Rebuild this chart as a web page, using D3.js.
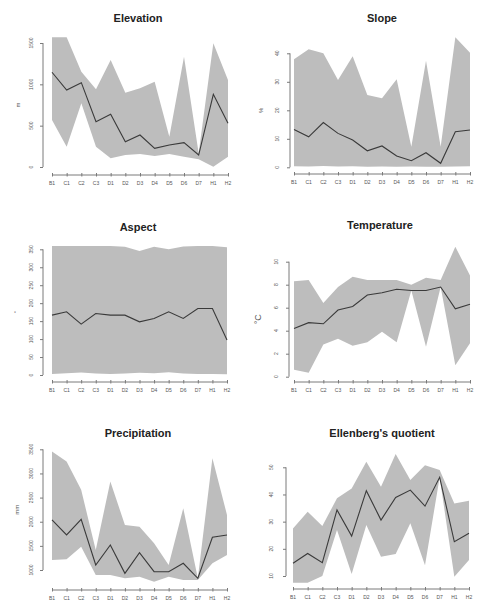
<!DOCTYPE html>
<html>
<head>
<meta charset="utf-8">
<script src="https://cdn.jsdelivr.net/npm/d3@7"></script>
<style>
  html, body { margin: 0; padding: 0; background: #ffffff; }
  svg { display: block; }
</style>
</head>
<body>
<svg id="chart" width="481" height="612"></svg>
<script>
// ---------- DATA ----------
const categories = ["B1","C1","C2","C3","D1","D2","D3","D4","D5","D6","D7","H1","H2"];

const elevMean  = [1146, 931, 1020, 548, 637, 306, 387, 226, 266, 294, 145, 879, 528];
const elevUpper = [1569, 1569, 1153, 940, 1294, 899, 952, 1032, 367, 1334, 165, 1496, 1052];
const elevLower = [569, 246, 770, 246, 105, 145, 157, 133, 157, 125, 93, 4, 125];
const elevTicks = [0, 500, 1000, 1500];

const slopeMean  = [13.3, 10.7, 15.7, 11.9, 9.6, 5.8, 7.5, 4.0, 2.3, 5.1, 1.4, 12.5, 13.1];
const slopeUpper = [37.9, 41.4, 40.0, 30.6, 39.0, 25.4, 24.2, 30.9, 7.2, 37.4, 7.2, 45.6, 40.2];
const slopeLower = [0.4, 0.3, 0.5, 0.3, 0.4, 0.2, 0.3, 0.2, 0.3, 0.2, 0.2, 0.3, 0.4];
const slopeTicks = [0, 10, 20, 30, 40];

const aspectMean  = [166.7, 175.9, 141.7, 171.3, 166.7, 166.7, 148.1, 157.4, 175.9, 157.4, 185.2, 185.2, 97.2];
const aspectUpper = [359, 359, 359, 359, 359, 357, 345, 357, 350, 358, 359, 359, 356];
const aspectLower = [3, 5, 7, 4, 3, 4, 6, 5, 8, 4, 3, 3, 2];
const aspectTicks = [0, 50, 100, 150, 200, 250, 300, 350];

const tempMean  = [4.2, 4.7, 4.6, 5.8, 6.1, 7.1, 7.3, 7.6, 7.5, 7.5, 7.8, 5.9, 6.3];
const tempUpper = [8.3, 8.4, 6.4, 7.8, 8.7, 8.4, 8.4, 8.4, 8.0, 8.6, 8.4, 11.3, 8.8];
const tempLower = [0.6, 0.35, 2.8, 3.3, 2.7, 3.0, 3.9, 3.0, 7.5, 2.6, 7.8, 1.0, 2.9];
const tempTicks = [0, 2, 4, 6, 8, 10];

const precMean  = [2037, 1726, 2051, 1104, 1519, 931, 1359, 965, 965, 1139, 828, 1678, 1726];
const precUpper = [3455, 3247, 2660, 1415, 2832, 1934, 1898, 1553, 1104, 2280, 828, 3317, 2141];
const precLower = [1207, 1221, 1484, 896, 896, 828, 862, 757, 862, 793, 793, 1139, 1311];
const precTicks = [1000, 1500, 2000, 2500, 3000, 3500];

const ellMean  = [14.7, 18.3, 14.9, 34.3, 24.7, 41.4, 30.6, 38.9, 41.6, 35.7, 46.3, 22.6, 25.7];
const ellUpper = [27.5, 33.6, 28.4, 38.6, 42.2, 52.0, 42.8, 54.9, 45.3, 50.8, 49.0, 36.7, 37.7];
const ellLower = [7.5, 7.5, 10.0, 26.9, 10.7, 28.8, 17.1, 18.1, 29.4, 14.0, 46.3, 9.7, 15.9];
const ellTicks = [10, 20, 30, 40, 50];

// ---------- LAYOUT ----------
const panels = [
  { title: "Elevation", ylab: "m", mean: elevMean, upper: elevUpper, lower: elevLower, ticks: elevTicks,
    yAxisX: 43, yTop: 43, yBot: 167, x0: 52, x1: 228, xAxisY: 175, titleX: 138, titleY: 22, ylabX: 20, tlabX: 33 },
  { title: "Slope", ylab: "%", mean: slopeMean, upper: slopeUpper, lower: slopeLower, ticks: slopeTicks,
    yAxisX: 290, yTop: 53.3, yBot: 167.3, x0: 294, x1: 470, xAxisY: 174, titleX: 382, titleY: 22, ylabX: 263, tlabX: 279 },
  { title: "Aspect", ylab: "°", mean: aspectMean, upper: aspectUpper, lower: aspectLower, ticks: aspectTicks,
    yAxisX: 43, yTop: 249.3, yBot: 375, x0: 52, x1: 227, xAxisY: 382, titleX: 138, titleY: 231, ylabX: 18, tlabX: 33 },
  { title: "Temperature", ylab: "°C", mean: tempMean, upper: tempUpper, lower: tempLower, ticks: tempTicks,
    yAxisX: 289, yTop: 261.7, yBot: 376.7, x0: 294, x1: 470, xAxisY: 382, titleX: 380, titleY: 229, ylabX: 261, tlabX: 278 },
  { title: "Precipitation", ylab: "mm", mean: precMean, upper: precUpper, lower: precLower, ticks: precTicks,
    yAxisX: 43, yTop: 449.3, yBot: 570, x0: 52, x1: 227, xAxisY: 590, titleX: 138, titleY: 437, ylabX: 19, tlabX: 33 },
  { title: "Ellenberg's quotient", ylab: "", mean: ellMean, upper: ellUpper, lower: ellLower, ticks: ellTicks,
    yAxisX: 286, yTop: 467.3, yBot: 576, x0: 293, x1: 469, xAxisY: 589, titleX: 382, titleY: 437, ylabX: 262, tlabX: 273 }
];

const svg = d3.select("#chart");
const font = "'Liberation Sans', Arial, Helvetica, sans-serif";
const axisColor = "#7a7a7a";
const textColor = "#555";

panels.forEach(p => {
  const g = svg.append("g");
  const x = d3.scalePoint().domain(categories).range([p.x0, p.x1]);
  const y = d3.scaleLinear()
    .domain([p.ticks[0], p.ticks[p.ticks.length - 1]])
    .range([p.yBot, p.yTop]);

  const rows = categories.map((c, i) => ({ c, m: p.mean[i], u: p.upper[i], l: p.lower[i] }));

  // band
  g.append("path")
    .datum(rows)
    .attr("d", d3.area().x(d => x(d.c)).y0(d => y(d.l)).y1(d => y(d.u)))
    .attr("fill", "#bdbdbd")
    .attr("stroke", "none");

  // mean line
  g.append("path")
    .datum(rows)
    .attr("d", d3.line().x(d => x(d.c)).y(d => y(d.m)))
    .attr("fill", "none")
    .attr("stroke", "#3a3a3a")
    .attr("stroke-width", 1.1);

  // y axis
  const ya = g.append("g")
    .attr("transform", `translate(${p.yAxisX},0)`)
    .call(d3.axisLeft(y).tickValues(p.ticks).tickSize(3).tickFormat(""));
  ya.select(".domain").attr("d", `M-0,${y(p.ticks[0])}V${y(p.ticks[p.ticks.length-1])}`)
    .attr("stroke", axisColor);
  ya.selectAll(".tick line").attr("stroke", axisColor);

  g.selectAll(".ytl")
    .data(p.ticks)
    .enter().append("text")
    .attr("transform", d => `translate(${p.tlabX},${y(d)}) rotate(-90)`)
    .attr("text-anchor", "middle")
    .attr("font-family", font)
    .attr("font-size", 5)
    .attr("fill", textColor)
    .text(d => d);

  // x axis
  const xa = g.append("g")
    .attr("transform", `translate(0,${p.xAxisY})`)
    .call(d3.axisBottom(x).tickSize(3).tickFormat("").tickSizeOuter(0));
  xa.select(".domain").attr("d", `M${p.x0},0H${p.x1}`).attr("stroke", axisColor);
  xa.selectAll(".tick line").attr("stroke", axisColor).attr("y1", -2).attr("y2", 1.5);

  g.selectAll(".xtl")
    .data(categories)
    .enter().append("text")
    .attr("x", d => x(d))
    .attr("y", p.xAxisY + 10)
    .attr("text-anchor", "middle")
    .attr("font-family", font)
    .attr("font-size", 5)
    .attr("fill", textColor)
    .text(d => d);

  // title
  g.append("text")
    .attr("x", p.titleX)
    .attr("y", p.titleY)
    .attr("text-anchor", "middle")
    .attr("font-family", font)
    .attr("font-weight", "bold")
    .attr("font-size", 11)
    .attr("fill", "#222")
    .text(p.title);

  // y label
  if (p.ylab) {
    g.append("text")
      .attr("transform", `translate(${p.ylabX},${(p.yTop + p.yBot) / 2}) rotate(-90)`)
      .attr("text-anchor", "middle")
      .attr("font-family", font)
      .attr("font-size", p.ylab === "°C" ? 9 : 6)
      .attr("fill", textColor)
      .text(p.ylab);
  }
});
</script>
</body>
</html>
